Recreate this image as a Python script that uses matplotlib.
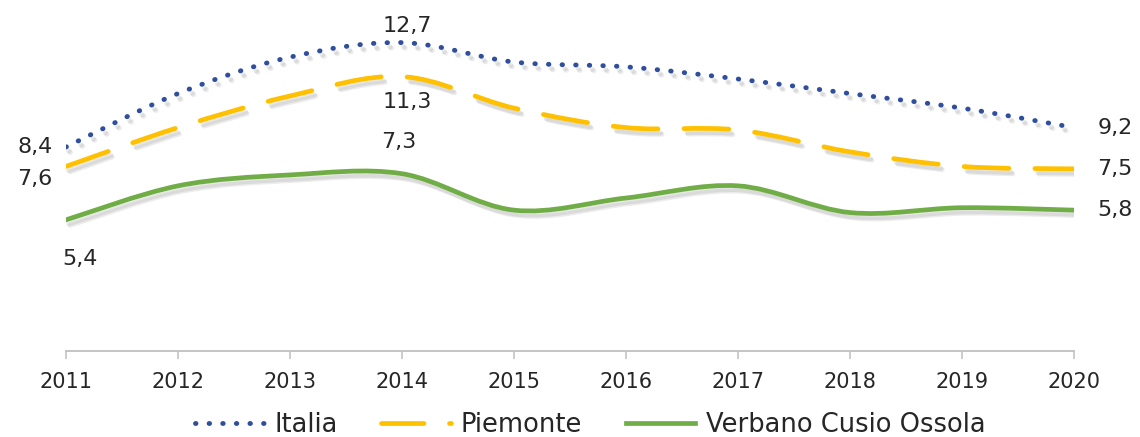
import numpy as np
import matplotlib
matplotlib.use("Agg")
import matplotlib.pyplot as plt
import matplotlib.patheffects as pe
from matplotlib.path import Path
from matplotlib.patches import PathPatch
from matplotlib.lines import Line2D

years = [2011, 2012, 2013, 2014, 2015, 2016, 2017, 2018, 2019, 2020]
italia = [8.4, 10.6, 12.1, 12.7, 11.9, 11.7, 11.2, 10.6, 10.0, 9.2]
piemonte = [7.6, 9.2, 10.5, 11.3, 10.0, 9.2, 9.1, 8.2, 7.6, 7.5]
vco = [5.4, 6.8, 7.25, 7.3, 5.8, 6.3, 6.8, 5.7, 5.9, 5.8]
series_names = ["Italia", "Piemonte", "Verbano Cusio Ossola"]

BLUE = "#2F4F9E"
YELLOW = "#FFC000"
GREEN = "#70AD47"
TEXT = "#262626"


def smooth_path(x, y):
    # excel-like smoothed line: catmull-rom converted to cubic bezier
    pts = np.column_stack([x, y]).astype(float)
    ext = np.vstack([pts[0], pts, pts[-1]])
    verts = [tuple(pts[0])]
    codes = [Path.MOVETO]
    for i in range(1, len(ext) - 2):
        p0, p1, p2, p3 = ext[i - 1], ext[i], ext[i + 1], ext[i + 2]
        c1 = p1 + (p2 - p0) / 6.0
        c2 = p2 - (p3 - p1) / 6.0
        verts += [tuple(c1), tuple(c2), tuple(p2)]
        codes += [Path.CURVE4] * 3
    return Path(verts, codes)


def label(v):
    return f"{v:.1f}".replace(".", ",")


fig = plt.figure(figsize=(11.4, 4.37), dpi=100)
ax = fig.add_axes([66 / 1140, 86 / 437, 1008 / 1140, 340 / 437])

# soft grey drop shadow under each line
shadow = [
    pe.SimpleLineShadow(offset=(3, -4), shadow_color="#9a9a9a", alpha=0.18),
    pe.SimpleLineShadow(offset=(2, -3), shadow_color="#9a9a9a", alpha=0.22),
    pe.Normal(),
]

styles = [
    (italia, BLUE, 3.5, (0, (0.1, 2.7))),
    (piemonte, YELLOW, 3.4, (0, (9.5, 5.5))),
    (vco, GREEN, 3.4, "-"),
]
for vals, color, lw, ls in styles:
    patch = PathPatch(smooth_path(years, vals), fill=False, edgecolor=color,
                      linewidth=lw, linestyle=ls, capstyle="round", joinstyle="round")
    patch.set_path_effects(shadow)
    ax.add_patch(patch)

ax.set_xlim(years[0], years[-1])
ax.set_ylim(0, 14)

for s in ["top", "right", "left"]:
    ax.spines[s].set_visible(False)
ax.spines["bottom"].set_color("#BFBFBF")
ax.spines["bottom"].set_linewidth(1.3)
ax.set_yticks([])
ax.set_xticks(years)
ax.set_xticklabels([str(y) for y in years])
ax.tick_params(axis="x", direction="out", length=6, width=1.1, color="#BFBFBF",
               labelsize=15, labelcolor=TEXT, pad=9)

fs = 16
# labels at first / peak / last points
ax.annotate(label(italia[0]), (years[0], italia[0]), xytext=(-35, 0), textcoords="offset points",
            ha="left", va="center", fontsize=fs, color=TEXT)
ax.annotate(label(piemonte[0]), (years[0], piemonte[0]), xytext=(-35, -9), textcoords="offset points",
            ha="left", va="center", fontsize=fs, color=TEXT)
ax.annotate(label(vco[0]), (years[0], vco[0]), xytext=(10, -28), textcoords="offset points",
            ha="center", va="center", fontsize=fs, color=TEXT)

ax.annotate(label(italia[3]), (years[3], italia[3]), xytext=(4, 12), textcoords="offset points",
            ha="center", va="center", fontsize=fs, color=TEXT)
ax.annotate(label(piemonte[3]), (years[3], piemonte[3]), xytext=(4, -18), textcoords="offset points",
            ha="center", va="center", fontsize=fs, color=TEXT)
ax.annotate(label(vco[3]), (years[3], vco[3]), xytext=(-2, 23), textcoords="offset points",
            ha="center", va="center", fontsize=fs, color=TEXT)

for vals in [italia, piemonte, vco]:
    ax.annotate(label(vals[-1]), (years[-1], vals[-1]), xytext=(17, 0), textcoords="offset points",
                ha="left", va="center", fontsize=fs, color=TEXT)

handles = [
    Line2D([], [], color=BLUE, lw=3.5, ls=(0, (0.1, 2.7)), dash_capstyle="round"),
    Line2D([], [], color=YELLOW, lw=3.4, ls=(0, (9.0, 5.4)), dash_capstyle="round"),
    Line2D([], [], color=GREEN, lw=3.4, ls="-"),
]
fig.legend(handles, series_names, loc="lower center", bbox_to_anchor=(0.5175, -0.055), ncol=3,
           frameon=False, fontsize=18.5, labelcolor=TEXT, handlelength=2.7, columnspacing=1.7,
           handletextpad=0.4)

fig.savefig("out.png", dpi=100)
